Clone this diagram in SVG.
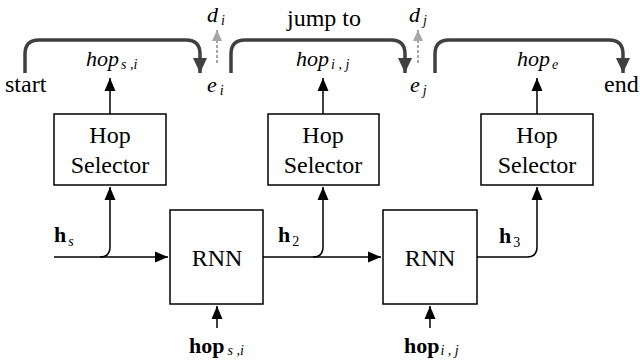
<svg xmlns="http://www.w3.org/2000/svg" width="640" height="362" viewBox="0 0 640 362">
<style>
text{font-family:"Liberation Serif","Times New Roman",serif;fill:#000}
.t{font-size:24px}
.it{font-style:italic;font-size:22px}
.sub{font-style:italic;font-size:14px}
.b{font-weight:bold;font-size:22px}
.box{fill:#fff;stroke:#000;stroke-width:1.5}
.ln{fill:none;stroke:#000;stroke-width:1.5}
.jp{fill:none;stroke:#404040;stroke-width:3.5}
.ds{fill:none;stroke:#a6a6a6;stroke-width:2;stroke-dasharray:3,2}
</style>
<defs>
<marker id="ab" markerUnits="userSpaceOnUse" markerWidth="13" markerHeight="12" refX="13" refY="6" orient="auto"><path d="M0,0.5 L13,6 L0,11.5 z" fill="#000"/></marker>
<marker id="ag" markerUnits="userSpaceOnUse" markerWidth="15" markerHeight="16" refX="15" refY="8" orient="auto"><path d="M0,1 L15,8 L0,15 z" fill="#404040"/></marker>
<marker id="al" markerUnits="userSpaceOnUse" markerWidth="11" markerHeight="12" refX="11" refY="6" orient="auto"><path d="M0,1 L11,6 L0,11 z" fill="#a6a6a6"/></marker>
</defs>
<g id="connectors">
<path class="ln" d="M54,257 H168" marker-end="url(#ab)"/>
<path class="ln" d="M100,257 Q110,257 110,247 V187" marker-end="url(#ab)"/>
<path class="ln" d="M263,257 H381" marker-end="url(#ab)"/>
<path class="ln" d="M313,257 Q323,257 323,247 V187" marker-end="url(#ab)"/>
<path class="ln" d="M477,257 H527 Q537,257 537,247 V187" marker-end="url(#ab)"/>
<path class="ln" d="M217,328 V306" marker-end="url(#ab)"/>
<path class="ln" d="M430,328 V306" marker-end="url(#ab)"/>
<path class="ln" d="M110,114 V78" marker-end="url(#ab)"/>
<path class="ln" d="M323,114 V78" marker-end="url(#ab)"/>
<path class="ln" d="M537,114 V78" marker-end="url(#ab)"/>
<path class="jp" d="M25,73 V54 Q25,40 39,40 H186 Q200,40 200,54 V73" marker-end="url(#ag)"/>
<path class="jp" d="M231,73 V54 Q231,40 245,40 H391 Q405,40 405,54 V73" marker-end="url(#ag)"/>
<path class="jp" d="M435,73 V54 Q435,40 449,40 H609 Q623,40 623,54 V73" marker-end="url(#ag)"/>
<path class="ds" d="M217,63 V30" marker-end="url(#al)"/>
<path class="ds" d="M418,63 V30" marker-end="url(#al)"/>
</g>
<g id="sel1"><rect class="box" x="54" y="114" width="112" height="71"/><text class="t" x="110" y="143" text-anchor="middle">Hop</text><text class="t" x="110" y="173" text-anchor="middle">Selector</text></g>
<g id="sel2"><rect class="box" x="268" y="114" width="111" height="71"/><text class="t" x="323" y="143" text-anchor="middle">Hop</text><text class="t" x="323" y="173" text-anchor="middle">Selector</text></g>
<g id="sel3"><rect class="box" x="481" y="114" width="112" height="71"/><text class="t" x="537" y="143" text-anchor="middle">Hop</text><text class="t" x="537" y="173" text-anchor="middle">Selector</text></g>
<g id="rnn1"><rect class="box" x="170" y="210" width="93" height="94"/><text class="t" x="217" y="266" text-anchor="middle">RNN</text></g>
<g id="rnn2"><rect class="box" x="383" y="210" width="94" height="94"/><text class="t" x="430" y="266" text-anchor="middle">RNN</text></g>
<g id="labels">
<text class="t" x="5" y="92">start</text>
<text class="t" x="604" y="92">end</text>
<text class="t" x="324" y="26" text-anchor="middle">jump to</text>
<text x="207" y="22"><tspan class="it">d</tspan><tspan class="sub" dx="3" dy="3">i</tspan></text>
<text x="207" y="92"><tspan class="it">e</tspan><tspan class="sub" dx="3" dy="3">i</tspan></text>
<text x="409" y="22"><tspan class="it">d</tspan><tspan class="sub" dx="3" dy="3">j</tspan></text>
<text x="410" y="92"><tspan class="it">e</tspan><tspan class="sub" dx="3" dy="3">j</tspan></text>
<text x="86" y="66"><tspan class="it">hop</tspan><tspan class="sub" dx="2" dy="3">s ,i</tspan></text>
<text x="296" y="66"><tspan class="it">hop</tspan><tspan class="sub" dx="2" dy="3">i , j</tspan></text>
<text x="517" y="66"><tspan class="it">hop</tspan><tspan class="sub" dx="2" dy="3">e</tspan></text>
<text x="54" y="242"><tspan class="b">h</tspan><tspan class="sub" dx="2" dy="4">s</tspan></text>
<text x="278" y="242"><tspan class="b">h</tspan><tspan style="font-size:14px" dx="2" dy="4">2</tspan></text>
<text x="499" y="243"><tspan class="b">h</tspan><tspan style="font-size:14px" dx="2" dy="4">3</tspan></text>
<text x="189" y="353"><tspan class="b">hop</tspan><tspan class="sub" dx="3" dy="2">s ,i</tspan></text>
<text x="404" y="353"><tspan class="b">hop</tspan><tspan class="sub" dx="1" dy="2">i , j</tspan></text>
</g>
</svg>
